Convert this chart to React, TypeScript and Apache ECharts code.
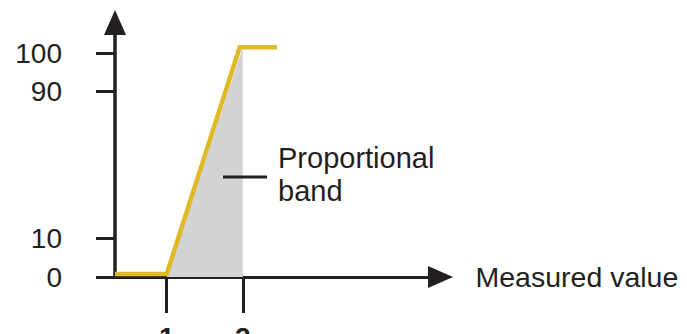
import React, { useEffect, useRef } from "react";
import * as echarts from "echarts";

// Tick values of the (broken) vertical axis and their labels
const yTickValues = [0, 10, 90, 100];
const yTickLabels = ["0", "10", "90", "100"];
// x-axis ticks
const xTickValues = [1, 2];
const xTickLabels = ["1", "2"];

// Output curve (yellow)
const curveX = [0.32, 1, 1.96, 2.45];
const curveY = [0.8, 0.8, 101.5, 101.5];

// Proportional band (grey area)
const bandX = [1, 2];
const bandY = [0, 101.5];

const annotationLines = ["Proportional", "band"];
const xAxisTitle = "Measured value";

// broken-axis scale: values 0-10 and 90-100 are stretched, 10-90 compressed
const breakValues = [0, 10, 90, 100];
const breakPos = [0, 39, 186, 224];
function toAxis(v: number): number {
  for (let i = 0; i < breakValues.length - 1; i++) {
    const a = breakValues[i], b = breakValues[i + 1];
    if (v <= b || i === breakValues.length - 2) {
      const t = (v - a) / (b - a);
      return breakPos[i] + t * (breakPos[i + 1] - breakPos[i]);
    }
  }
  return v;
}

const INK = "#231f20";
const FONT = "'Liberation Sans', Arial, Helvetica, sans-serif";

export default function App() {
  const ref = useRef<HTMLDivElement>(null);
  useEffect(() => {
    if (!ref.current) return;
    const chart = echarts.init(ref.current, null, { renderer: "svg" });
    const yTickAxis = yTickValues.map(toAxis);
    chart.setOption({
      animation: false,
      textStyle: { fontFamily: FONT },
      grid: {
        left: 115,
        right: 246.5,
        top: 22.5,
        bottom: 57,
        containLabel: false,
        outerBoundsMode: "none",
      },
      xAxis: {
        type: "value",
        min: 0.32,
        max: 4.6,
        name: xAxisTitle,
        nameLocation: "end",
        nameGap: 35,
        nameTextStyle: { fontSize: 28.5, color: INK, fontFamily: FONT, padding: [0, 0, 6, 0] },
        axisLine: {
          show: true,
          onZero: false,
          symbol: ["none", "triangle"],
          symbolSize: [22, 25],
          lineStyle: { color: INK, width: 3 },
        },
        axisTick: { show: true, customValues: xTickValues, length: 36, lineStyle: { color: INK, width: 3 } },
        axisLabel: {
          show: true,
          customValues: xTickValues,
          margin: 46,
          fontSize: 28,
          fontWeight: "bold",
          color: INK,
          fontFamily: FONT,
          formatter: (v: number) => xTickLabels[xTickValues.indexOf(v)] ?? "",
        },
        splitLine: { show: false },
      },
      yAxis: {
        type: "value",
        min: 0,
        max: 254.5,
        axisLine: {
          show: true,
          onZero: false,
          symbol: ["none", "triangle"],
          symbolSize: [22, 25],
          lineStyle: { color: INK, width: 3.5 },
        },
        axisTick: { show: true, customValues: yTickAxis, length: 19, lineStyle: { color: INK, width: 3 } },
        axisLabel: {
          show: true,
          customValues: yTickAxis,
          margin: 53,
          fontSize: 28,
          color: INK,
          fontFamily: FONT,
          padding: [6, 0, 0, 0],
          formatter: (v: number) => {
            let best = 0;
            yTickAxis.forEach((p, i) => {
              if (Math.abs(p - v) < Math.abs(yTickAxis[best] - v)) best = i;
            });
            return yTickLabels[best];
          },
        },
        splitLine: { show: false },
      },
      series: [
        {
          type: "line",
          data: bandX.map((x, i) => [x, toAxis(bandY[i])]),
          showSymbol: false,
          lineStyle: { width: 0 },
          areaStyle: { color: "#d1d3d4", opacity: 1 },
          z: 1,
        },
        {
          type: "line",
          data: curveX.map((x, i) => [x, toAxis(curveY[i])]),
          showSymbol: false,
          lineStyle: { width: 4.5, color: "#dfb926", join: "miter" },
          itemStyle: { color: "#dfb926" },
          z: 3,
        },
      ],
      graphic: [
        {
          type: "line",
          z: 10,
          shape: { x1: 223, y1: 177, x2: 267, y2: 177 },
          style: { stroke: INK, lineWidth: 3 },
        },
        {
          type: "text",
          z: 10,
          x: 278,
          y: 141,
          style: {
            text: annotationLines.join("\n"),
            fontSize: 29,
            lineHeight: 33,
            fill: INK,
            fontFamily: FONT,
            verticalAlign: "top",
            align: "left",
          },
        },
      ],
    });
    return () => chart.dispose();
  }, []);
  return (
    <div
      ref={ref}
      style={{ position: "fixed", left: 0, top: 0, width: 687, height: 334, background: "#fff" }}
    />
  );
}
